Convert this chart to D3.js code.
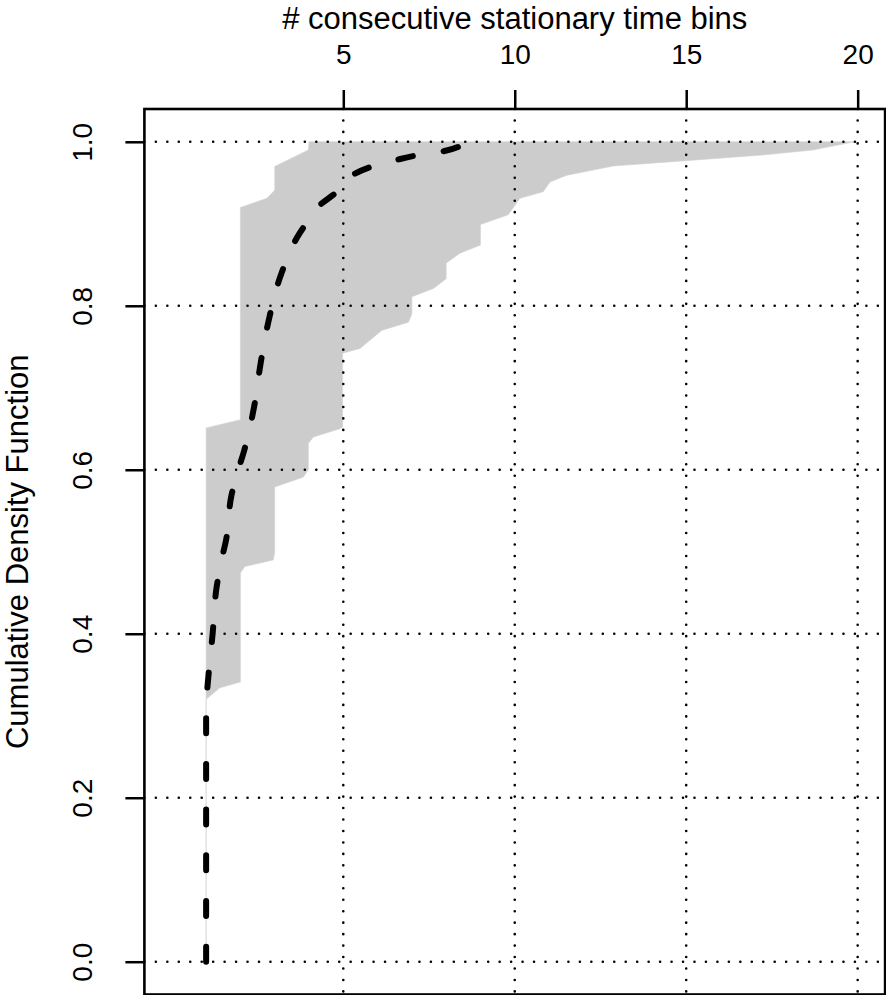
<!DOCTYPE html>
<html>
<head>
<meta charset="utf-8">
<script src="https://cdn.jsdelivr.net/npm/d3@7"></script>
<style>
    body { margin: 0; background: white; }
    text { font-family: "Liberation Sans", Arial, Helvetica, sans-serif; fill: black; }
</style>
</head>
<body>
<div id="chart"></div>
<script>
// tick values
const xTicks = [5, 10, 15, 20]
const yTicks = [0, 0.2, 0.4, 0.6, 0.8, 1.0]

// mean cdf (dashed line)
const cdfX = [1, 1, 1.06, 1.19, 1.3, 1.45, 1.58, 1.74, 1.9, 2.1, 2.4, 2.59, 2.84, 3.2, 3.72, 4.0, 4.32, 4.76, 5.25, 5.78, 6.56, 7.09, 7.87, 8.5]
const cdfY = [0, 0.31, 0.345, 0.4, 0.455, 0.49, 0.514, 0.569, 0.595, 0.622, 0.677, 0.73, 0.785, 0.84, 0.888, 0.905, 0.923, 0.937, 0.959, 0.969, 0.978, 0.983, 0.988, 0.997]

// min / max envelope (grey band)
const bandLeftX = [1, 1, 1, 2, 2, 2.77, 3, 3, 3.98, 4]
const bandLeftY = [0, 0.32, 0.651, 0.661, 0.92, 0.931, 0.941, 0.97, 0.99, 1.0]
const bandRightX = [1, 1, 1.4, 2, 2, 2.13, 2.96, 3, 3, 3.83, 3.98, 3.98, 4.13, 4.9, 4.98, 4.98, 5.49, 6.12, 6.9, 7.0, 7.0, 7.63, 8.0, 8.0, 8.4, 9.0, 9.0, 9.81, 10.15, 10.83, 11.03, 11.5, 12.88, 15.0, 17.25, 18.7, 19.9]
const bandRightY = [0, 0.32, 0.334, 0.341, 0.474, 0.482, 0.49, 0.50, 0.579, 0.591, 0.60, 0.632, 0.64, 0.65, 0.652, 0.742, 0.748, 0.77, 0.78, 0.79, 0.811, 0.821, 0.833, 0.852, 0.864, 0.874, 0.899, 0.911, 0.931, 0.939, 0.951, 0.959, 0.9705, 0.977, 0.984, 0.99, 1.0]

const xLabel = "# consecutive stationary time bins"
const yLabel = "Cumulative Density Function"

class CdfChart{

    constructor(){
        this.width = 886
        this.height = 995
        this.box = {left: 144.4, right: 885.1, top: 109, bottom: 994.5}

        this.x = d3.scaleLinear()
            .domain([-0.8, 20.8])
            .range([this.box.left, this.box.right])
        this.y = d3.scaleLinear()
            .domain([-0.04, 1.04])
            .range([this.box.bottom, this.box.top])

        this.svg = d3.select("#chart")
            .append("svg")
            .attr("width", this.width)
            .attr("height", this.height)
    }

    drawBand(){
        let pts = bandLeftX.map((d, i) => [d, bandLeftY[i]])
        let right = bandRightX.map((d, i) => [d, bandRightY[i]]).reverse()
        pts = pts.concat(right)

        let line = d3.line()
            .x(d => this.x(d[0]))
            .y(d => this.y(d[1]))

        this.svg.append("path")
            .attr("id", "band")
            .attr("d", line(pts) + "Z")
            .attr("fill", "#cccccc")
            .attr("stroke", "#d4d4d4")
            .attr("stroke-width", 0.6)
    }

    drawGrid(){
        this.svg.selectAll(".hgrid")
            .data(yTicks)
            .enter()
            .append("line")
            .attr("class", "hgrid")
            .attr("x1", this.box.left)
            .attr("x2", this.box.right)
            .attr("y1", d => this.y(d))
            .attr("y2", d => this.y(d))
            .attr("stroke", "black")
            .attr("stroke-width", 2.6)
            .attr("stroke-linecap", "round")
            .attr("stroke-dasharray", "0.01 11.45")

        this.svg.selectAll(".vgrid")
            .data(xTicks)
            .enter()
            .append("line")
            .attr("class", "vgrid")
            .attr("x1", d => this.x(d))
            .attr("x2", d => this.x(d))
            .attr("y1", this.box.top)
            .attr("y2", this.box.bottom)
            .attr("stroke", "black")
            .attr("stroke-width", 2.6)
            .attr("stroke-linecap", "round")
            .attr("stroke-dasharray", "0.01 11.45")
    }

    drawCdf(){
        let pts = cdfX.map((d, i) => [d, cdfY[i]])
        let line = d3.line()
            .x(d => this.x(d[0]))
            .y(d => this.y(d[1]))
            .curve(d3.curveMonotoneY)

        this.svg.append("path")
            .attr("id", "cdf")
            .attr("d", line(pts))
            .attr("fill", "none")
            .attr("stroke", "black")
            .attr("stroke-width", 6)
            .attr("stroke-linecap", "round")
            .attr("stroke-dasharray", "15 30.7")
    }

    drawAxes(){
        let xAxis = d3.axisTop(this.x)
            .tickValues(xTicks)
            .tickSize(19)
            .tickPadding(26)
        let gx = this.svg.append("g")
            .attr("transform", "translate(0," + this.box.top + ")")
            .call(xAxis)
        gx.select(".domain").remove()
        gx.selectAll(".tick line").attr("stroke", "black").attr("stroke-width", 2.5)
        gx.selectAll(".tick text")
            .attr("font-size", "28px")
            .attr("font-family", null)

        let yAxis = d3.axisLeft(this.y)
            .tickValues(yTicks)
            .tickFormat(d3.format(".1f"))
            .tickSize(19)
        let gy = this.svg.append("g")
            .attr("transform", "translate(" + this.box.left + ",0)")
            .call(yAxis)
        gy.select(".domain").remove()
        gy.selectAll(".tick line").attr("stroke", "black").attr("stroke-width", 2.5)
        gy.selectAll(".tick text")
            .attr("font-size", "28px")
            .attr("font-family", null)
            .attr("text-anchor", "middle")
            .attr("x", 0)
            .attr("y", -52)
            .attr("dy", null)
            .attr("transform", "rotate(-90)")

        // frame round the plot region
        this.svg.append("rect")
            .attr("x", this.box.left)
            .attr("y", this.box.top)
            .attr("width", this.box.right - this.box.left)
            .attr("height", this.box.bottom - this.box.top)
            .attr("fill", "none")
            .attr("stroke", "black")
            .attr("stroke-width", 2.6)

        this.svg.append("text")
            .attr("x", (this.box.left + this.box.right) / 2)
            .attr("y", 29)
            .attr("text-anchor", "middle")
            .attr("font-size", "31px")
            .text(xLabel)

        this.svg.append("text")
            .attr("transform", "translate(28," + ((this.box.top + this.box.bottom) / 2) + ")rotate(-90)")
            .attr("text-anchor", "middle")
            .attr("font-size", "31px")
            .text(yLabel)
    }

    draw(){
        this.drawBand()
        this.drawGrid()
        this.drawCdf()
        this.drawAxes()
    }
}

let chart = new CdfChart()
chart.draw()
</script>
</body>
</html>
